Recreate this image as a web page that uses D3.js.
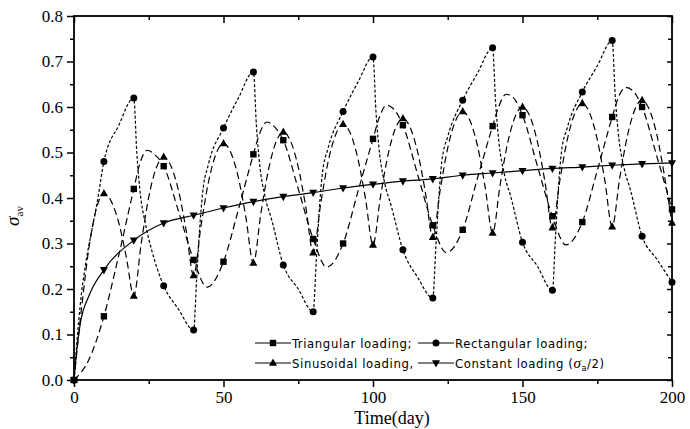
<!DOCTYPE html>
<html>
<head>
<meta charset="utf-8">
<script src="https://cdn.jsdelivr.net/npm/d3@7"></script>
<style>
  body { margin: 0; background: #fff; }
  .tick text { font-family: "Liberation Serif", "Times New Roman", serif; font-size: 17px; fill: #000; }
  .legend text { font-family: "Liberation Sans Narrow", "DejaVu Sans Condensed", "Liberation Sans", sans-serif; font-size: 13px; letter-spacing: 0.6px; }
</style>
</head>
<body>
<div id="chart"></div>
<script>
// [day, sigma] pairs; markers sit on the 10-day points
const triangular = [
  [0, 0], [5, 0.045], [10, 0.14], [15, 0.275], [20, 0.42], [22, 0.475], [24.5, 0.505], [27, 0.495],
  [30, 0.47], [35, 0.37], [40, 0.264], [44.5, 0.204], [50, 0.26], [55, 0.375], [60, 0.496], [62, 0.54],
  [64.5, 0.567], [67, 0.557], [70, 0.527], [75, 0.42], [80, 0.31], [84.5, 0.248], [90, 0.30], [95, 0.415],
  [100, 0.53], [102, 0.575], [104.5, 0.604], [107, 0.595], [110, 0.56], [115, 0.45], [120, 0.34],
  [124.5, 0.28], [130, 0.33], [135, 0.445], [140, 0.558], [142, 0.6], [144.5, 0.628], [147, 0.62],
  [150, 0.582], [155, 0.47], [160, 0.36], [164.5, 0.297], [170, 0.347], [175, 0.46], [180, 0.578],
  [182, 0.62], [184.5, 0.643], [187, 0.635], [190, 0.60], [195, 0.49], [200, 0.375]
];

const rectangular = [
  [0, 0], [2, 0.16], [4, 0.26], [6, 0.33], [8, 0.4], [10, 0.48], [15, 0.56], [20, 0.62],
  [21, 0.5], [22, 0.42], [24, 0.34], [26, 0.285], [30, 0.207], [35, 0.155], [40, 0.11],
  [41, 0.22], [42, 0.33], [43, 0.41], [45, 0.475], [50, 0.554], [55, 0.62], [60, 0.677],
  [61, 0.56], [62, 0.48], [64, 0.40], [66, 0.355], [70, 0.253], [75, 0.2], [80, 0.15],
  [81, 0.26], [82, 0.37], [83, 0.45], [85, 0.51], [90, 0.59], [95, 0.655], [100, 0.71],
  [101, 0.59], [102, 0.51], [104, 0.43], [106, 0.385], [110, 0.286], [115, 0.225], [120, 0.18],
  [121, 0.29], [122, 0.4], [123, 0.48], [125, 0.535], [130, 0.615], [135, 0.675], [140, 0.73],
  [141, 0.61], [142, 0.53], [144, 0.45], [146, 0.405], [150, 0.303], [155, 0.25], [160, 0.197],
  [161, 0.31], [162, 0.42], [163, 0.5], [165, 0.555], [170, 0.633], [175, 0.69], [180, 0.746],
  [181, 0.625], [182, 0.545], [184, 0.465], [186, 0.42], [190, 0.316], [195, 0.265], [200, 0.215]
];

const sinusoidal = [
  [0, 0], [2.5, 0.156], [5, 0.291], [7.5, 0.377], [10, 0.41], [12.5, 0.392], [15, 0.345], [17.5, 0.27],
  [20, 0.185], [22.5, 0.301], [25, 0.402], [27.5, 0.466], [30, 0.49], [32.5, 0.469], [35, 0.415],
  [37.5, 0.329], [40, 0.23], [42.5, 0.34], [45, 0.436], [47.5, 0.497], [50, 0.52], [52.5, 0.499],
  [55, 0.444], [57.5, 0.357], [60, 0.257], [62.5, 0.366], [65, 0.461], [67.5, 0.522], [70, 0.545],
  [72.5, 0.524], [75, 0.468], [77.5, 0.381], [80, 0.28], [82.5, 0.387], [85, 0.48], [87.5, 0.539],
  [90, 0.562], [92.5, 0.541], [95, 0.485], [97.5, 0.398], [100, 0.297], [102.5, 0.403], [105, 0.494],
  [107.5, 0.553], [110, 0.575], [112.5, 0.554], [115, 0.499], [117.5, 0.413], [120, 0.314],
  [122.5, 0.419], [125, 0.51], [127.5, 0.568], [130, 0.59], [132.5, 0.569], [135, 0.513],
  [137.5, 0.424], [140, 0.323], [142.5, 0.428], [145, 0.52], [147.5, 0.578], [150, 0.60],
  [152.5, 0.579], [155, 0.523], [157.5, 0.436], [160, 0.335], [162.5, 0.439], [165, 0.529],
  [167.5, 0.586], [170, 0.608], [172.5, 0.586], [175, 0.529], [177.5, 0.44], [180, 0.337],
  [182.5, 0.443], [185, 0.534], [187.5, 0.593], [190, 0.615], [192.5, 0.593], [195, 0.537],
  [197.5, 0.448], [200, 0.345]
];

const constant = [
  [0, 0], [1, 0.07], [2, 0.12], [5, 0.185], [10, 0.242], [20, 0.307], [30, 0.345], [40, 0.362],
  [50, 0.378], [60, 0.392], [70, 0.403], [80, 0.412], [90, 0.422], [100, 0.43], [110, 0.437],
  [120, 0.442], [130, 0.45], [140, 0.455], [150, 0.46], [160, 0.465], [170, 0.468], [180, 0.472],
  [190, 0.475], [200, 0.477]
];

const xMajor = [0, 50, 100, 150, 200];
const xMinor = [25, 75, 125, 175];
const yMajor = [0, 0.1, 0.2, 0.3, 0.4, 0.5, 0.6, 0.7, 0.8];
const yMinor = [0.05, 0.15, 0.25, 0.35, 0.45, 0.55, 0.65, 0.75];

const series = [
  { name: "Triangular loading;", data: triangular, dash: "7,4", marker: "square" },
  { name: "Rectangular loading;", data: rectangular, dash: "3,2", marker: "circle" },
  { name: "Sinusoidal loading,", data: sinusoidal, dash: "7,4", marker: "triangle" },
  { name: "Constant loading", data: constant, dash: null, marker: "triangleDown" }
];

const width = 690, height = 429;
const x = d3.scaleLinear().domain([0, 200]).range([74, 672]);
const y = d3.scaleLinear().domain([0, 0.8]).range([380, 16]);

const svg = d3.select("#chart").append("svg")
  .attr("width", width)
  .attr("height", height);

function addAxis(axis, transform, labels) {
  const g = svg.append("g").attr("transform", transform).call(axis);
  g.select(".domain").remove();
  g.selectAll("line").attr("stroke", "#000").attr("stroke-width", 1.5);
  if (!labels) g.selectAll("text").remove();
  return g;
}

// bottom axis, ticks outward
addAxis(d3.axisBottom(x).tickValues(xMajor).tickSize(7).tickPadding(4).tickFormat(d3.format("d")),
  `translate(0,${y(0)})`, true);
addAxis(d3.axisBottom(x).tickValues(xMinor).tickSize(4), `translate(0,${y(0)})`, false);
// top axis, ticks inward
addAxis(d3.axisBottom(x).tickValues(xMajor).tickSize(7), `translate(0,${y(0.8)})`, false);
addAxis(d3.axisBottom(x).tickValues(xMinor).tickSize(4), `translate(0,${y(0.8)})`, false);
// left axis, ticks outward
addAxis(d3.axisLeft(y).tickValues(yMajor).tickSize(7).tickPadding(4).tickFormat(d3.format(".1f")),
  `translate(${x(0)},0)`, true);
addAxis(d3.axisLeft(y).tickValues(yMinor).tickSize(4), `translate(${x(0)},0)`, false);
// right axis, ticks inward
addAxis(d3.axisRight(y).tickValues(yMajor).tickSize(-5), `translate(${x(200)},0)`, false);
addAxis(d3.axisRight(y).tickValues(yMinor).tickSize(-4), `translate(${x(200)},0)`, false);

svg.append("rect")
  .attr("x", x(0)).attr("y", y(0.8))
  .attr("width", x(200) - x(0)).attr("height", y(0) - y(0.8))
  .attr("fill", "none").attr("stroke", "#000").attr("stroke-width", 1.8);

// axis titles
svg.append("text")
  .attr("x", 392).attr("y", 424)
  .attr("text-anchor", "middle")
  .style("font-family", "'Liberation Serif', serif")
  .style("font-size", "18px")
  .text("Time(day)");

const yTitle = svg.append("text")
  .attr("transform", "translate(19,216) rotate(-90)")
  .attr("text-anchor", "middle")
  .style("font-family", "'Liberation Serif', serif")
  .style("font-size", "19px");
yTitle.append("tspan").style("font-style", "italic").text("σ");
yTitle.append("tspan").attr("dy", 4).style("font-size", "11px").text("av");

const line = d3.line()
  .x(d => x(d[0]))
  .y(d => y(d[1]))
  .curve(d3.curveMonotoneX);

const plot = svg.append("g");

series.forEach(s => {
  plot.append("path")
    .datum(s.data)
    .attr("d", line)
    .attr("fill", "none")
    .attr("stroke", "#000")
    .attr("stroke-width", 1.2)
    .attr("stroke-dasharray", s.dash);
});

function drawMarker(g, type, cx, cy) {
  if (type === "square") {
    g.append("rect").attr("x", cx - 3.2).attr("y", cy - 3.2).attr("width", 6.4).attr("height", 6.4);
  } else if (type === "circle") {
    g.append("circle").attr("cx", cx).attr("cy", cy).attr("r", 3.5);
  } else if (type === "triangle") {
    g.append("path").attr("d", `M${cx},${cy - 4.5}L${cx + 4},${cy + 2.8}L${cx - 4},${cy + 2.8}Z`);
  } else {
    g.append("path").attr("d", `M${cx},${cy + 4.5}L${cx + 4},${cy - 2.8}L${cx - 4},${cy - 2.8}Z`);
  }
}

series.forEach(s => {
  const g = plot.append("g").attr("fill", "#000");
  s.data.filter(d => d[0] % 10 === 0).forEach(d => drawMarker(g, s.marker, x(d[0]), y(d[1])));
});

// legend inside the plot, two columns
const legend = svg.append("g").attr("class", "legend");
const legendPos = [[255, 343], [418, 343], [255, 363], [418, 363]];
series.forEach((s, i) => {
  const [lx, ly] = legendPos[i];
  const g = legend.append("g").attr("fill", "#000");
  g.append("line").attr("x1", lx).attr("x2", lx + 36).attr("y1", ly).attr("y2", ly)
    .attr("stroke", "#000").attr("stroke-width", 1);
  drawMarker(g, s.marker, lx + 18, ly);
  const t = g.append("text").attr("x", lx + 37).attr("y", ly + 4.5).text(s.name);
  if (s.marker === "triangleDown") {
    t.append("tspan").text(" (");
    t.append("tspan").style("font-family", "'Liberation Serif', serif").style("font-style", "italic")
      .style("font-size", "15px").text("σ");
    t.append("tspan").attr("dy", 3).style("font-size", "9px").text("a");
    t.append("tspan").attr("dy", -3).text("/2)");
  }
});
</script>
</body>
</html>
